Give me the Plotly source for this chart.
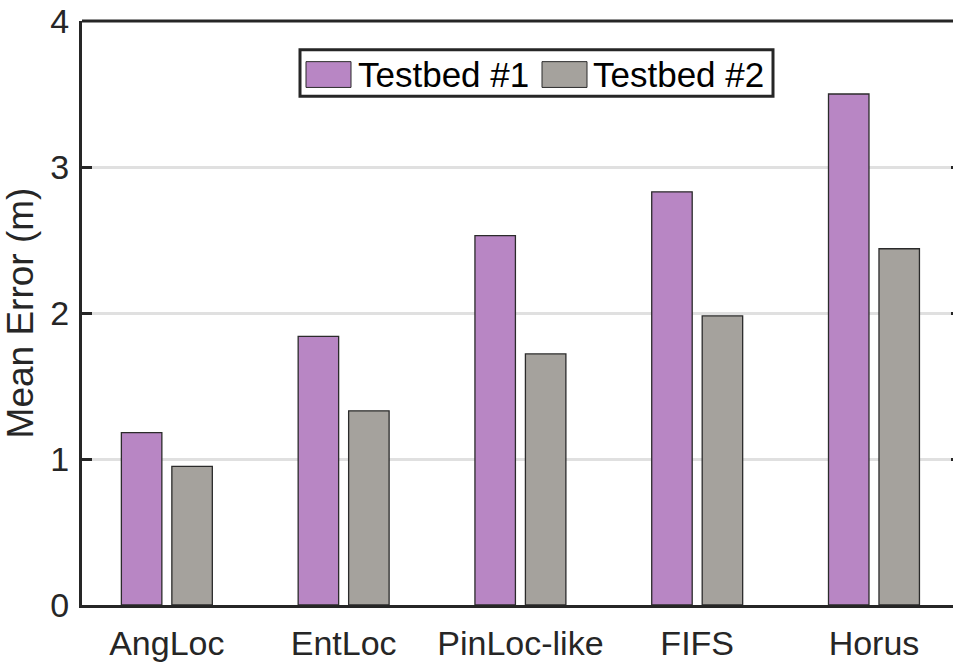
import plotly.graph_objects as go

# Mean localisation error per method, two testbeds
methods = ["AngLoc", "EntLoc", "PinLoc-like", "FIFS", "Horus"]
series_names = ["Testbed #1", "Testbed #2"]
testbed1 = [1.18, 1.84, 2.53, 2.83, 3.50]
testbed2 = [0.95, 1.33, 1.72, 1.98, 2.44]
y_ticks = [0, 1, 2, 3, 4]

colors = ["#B886C4", "#A5A29D"]
edge = "#2b2b2b"
axis_col = "#262626"
FONT = "Liberation Sans, Arial, Helvetica, sans-serif"

W_FIG, H_FIG = 953, 662
L, R, T, B = 82, 0, 21, 52
PW, PH = W_FIG - L - R, H_FIG - T - B


def fx(px):
    return (px - L) / PW


def fy(py):
    return (H_FIG - B - py) / PH


fig = go.Figure()
for name, vals, col in zip(series_names, [testbed1, testbed2], colors):
    fig.add_trace(go.Bar(
        x=methods, y=vals, name=name,
        marker=dict(color=col, line=dict(color=edge, width=1.3)),
        showlegend=False,
    ))

# framed legend drawn from shapes + text
shapes = [
    # top border of the axes box
    dict(type="line", xref="paper", yref="paper", x0=0, x1=1, y0=1, y1=1,
         line=dict(color=axis_col, width=3)),
    dict(type="rect", xref="paper", yref="paper",
         x0=fx(300), x1=fx(773), y0=fy(97), y1=fy(50),
         line=dict(color=axis_col, width=3), fillcolor="white"),
]
annotations = []
swatch_x = [306, 542]
text_x = [356, 591]
for sx, tx, col, name in zip(swatch_x, text_x, colors, series_names):
    shapes.append(dict(type="rect", xref="paper", yref="paper",
                       x0=fx(sx), x1=fx(sx + 45), y0=fy(88), y1=fy(62),
                       line=dict(color=edge, width=1), fillcolor=col))
    annotations.append(dict(xref="paper", yref="paper", x=fx(tx), y=fy(75),
                            text=name, showarrow=False, xanchor="left",
                            yanchor="middle",
                            font=dict(family=FONT, size=35, color="black")))

fig.update_layout(
    width=W_FIG, height=H_FIG,
    margin=dict(l=L, r=R, t=T, b=B, pad=0),
    plot_bgcolor="white", paper_bgcolor="white",
    barmode="group", bargap=0.429, bargroupgap=0.198,
    font=dict(family=FONT, size=34, color=axis_col),
    shapes=shapes, annotations=annotations,
    xaxis=dict(
        range=[-0.48, 4.447], showline=True, linecolor=axis_col, linewidth=3,
        ticks="", showgrid=False, tickfont=dict(size=34, color=axis_col),
        ticklabelstandoff=6,
    ),
    yaxis=dict(
        range=[0, 4], tickvals=y_ticks, showline=True, linecolor=axis_col,
        linewidth=3, ticks="inside", ticklen=10, tickwidth=3, tickcolor=axis_col,
        showgrid=True, gridcolor="#e0e0e0", gridwidth=3, zeroline=False,
        tickfont=dict(size=34, color=axis_col), ticklabelstandoff=3,
        title=dict(text="Mean Error (m)", font=dict(size=37, color=axis_col),
                   standoff=8),
    ),
    yaxis2=dict(
        range=[0, 4], tickvals=[1, 2, 3], overlaying="y", side="right",
        ticks="inside", ticklen=2, tickwidth=3, tickcolor=axis_col,
        showticklabels=False, showgrid=False, zeroline=False, showline=False,
    ),
)
fig.add_trace(go.Scatter(x=[methods[0]], y=[0], yaxis="y2", mode="markers",
                         marker=dict(opacity=0), showlegend=False,
                         hoverinfo="skip"))

fig.write_html("out.html")
